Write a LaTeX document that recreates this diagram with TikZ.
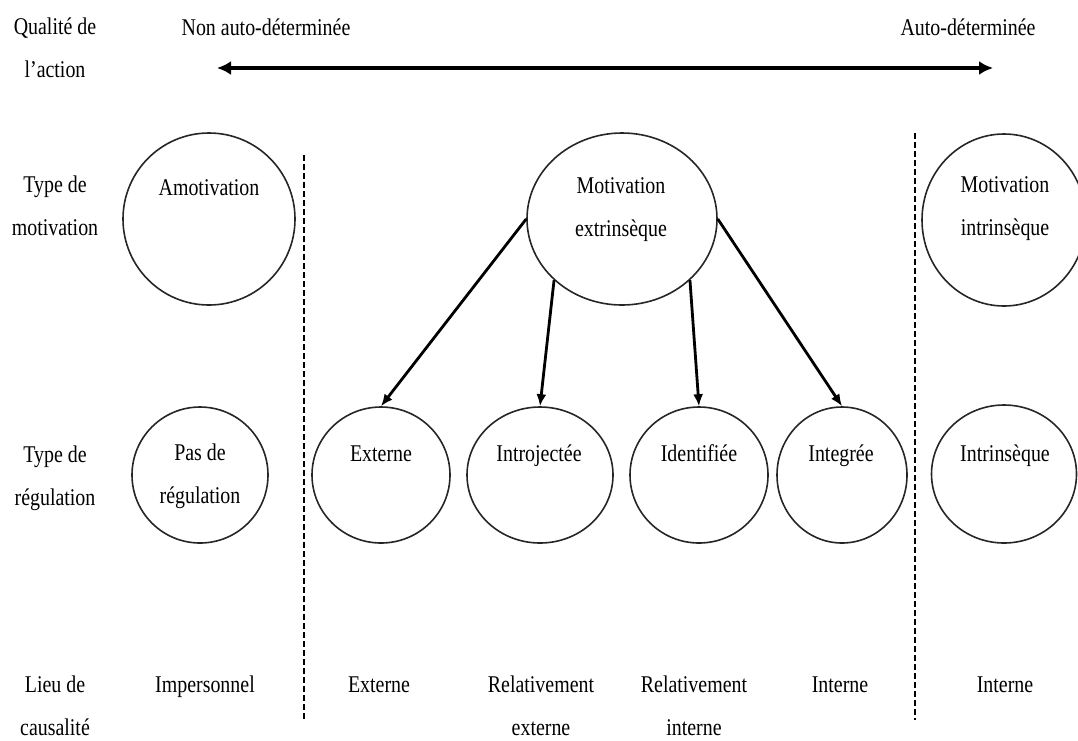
\documentclass[tikz,border=0pt]{standalone}
\usepackage{fontspec}
\setmainfont{Liberation Serif}[FakeStretch=0.83]
\usepackage{tikz}
\usetikzlibrary{shapes.geometric, arrows.meta, positioning}

\begin{document}
\begin{tikzpicture}[x=1pt, y=-1pt,
  txt/.style={align=center, font=\fontsize{24}{43}\selectfont, inner sep=0pt},
  lbl/.style={font=\fontsize{24}{43}\selectfont, inner sep=0pt, text height=18pt, text depth=1pt},
  oval/.style={draw=black!85, line width=1.6pt, ellipse, inner sep=0pt},
  sepline/.style={line width=2.4pt, dash pattern=on 6pt off 3pt},
  arr/.style={-{Latex[length=12pt, width=10pt]}, line width=2.8pt}
]
  \useasboundingbox (0,0) rectangle (1078,740);

  \node[txt] (qual) at (55,48) {Qualité de\\l’action};
  \node[txt] (typmot) at (55,206) {Type de\\motivation};
  \node[txt] (typreg) at (55,478) {Type de\\régulation};
  \node[txt] (lieu) at (55,706) {Lieu de\\causalité};

  \node[lbl] (nonauto) at (266,27) {Non auto-déterminée};
  \node[lbl] (auto) at (968,27) {Auto-déterminée};
  \coordinate (qleft) at (217,68);
  \coordinate (qright) at (993,68);
  \draw[{Latex[length=14pt, width=14pt]}-{Latex[length=14pt, width=14pt]}, line width=3.2pt] (qleft) -- (qright);

  \node[oval, minimum width=172pt, minimum height=172pt] (amot) at (209,219) {};
  \node[oval, minimum width=190pt, minimum height=172pt] (extr) at (622,219) {};
  \node[oval, minimum width=164pt, minimum height=172pt] (intr) at (1004,220) {};
  \node[lbl] (tamot) at (209,187) {Amotivation};
  \node[txt] (textr) at (621,210) {Motivation\\extrinsèque};
  \node[txt] (tintr) at (1005,209) {Motivation\\intrinsèque};

  \node[oval, minimum width=136pt, minimum height=136pt] (pasreg) at (200,475) {};
  \node[oval, minimum width=138pt, minimum height=136pt] (regext) at (381,475) {};
  \node[oval, minimum width=146pt, minimum height=136pt] (regintro) at (540,475) {};
  \node[oval, minimum width=138pt, minimum height=136pt] (regident) at (699,475) {};
  \node[oval, minimum width=130pt, minimum height=136pt] (reginteg) at (842,475) {};
  \node[oval, minimum width=145pt, minimum height=138pt] (regintr) at (1004,474) {};
  \node[txt] (tpasreg) at (200,476) {Pas de\\régulation};
  \node[lbl] (tregext) at (381,453) {Externe};
  \node[lbl] (tregintro) at (539,453) {Introjectée};
  \node[lbl] (tregident) at (699,453) {Identifiée};
  \node[lbl] (treginteg) at (841,453) {Integrée};
  \node[lbl] (tregintr) at (1005,453) {Intrinsèque};

  \node[lbl] (lcimp) at (205,684) {Impersonnel};
  \node[lbl] (lcext) at (379,684) {Externe};
  \node[txt] (lcrelext) at (541,706) {Relativement\\externe};
  \node[txt] (lcrelint) at (694,706) {Relativement\\interne};
  \node[lbl] (lcint) at (840,684) {Interne};
  \node[lbl] (lcintr) at (1005,684) {Interne};

  \coordinate (sepAtop) at (304,155);
  \coordinate (sepAbot) at (304,720);
  \coordinate (sepBtop) at (915,133);
  \coordinate (sepBbot) at (915,720);
  \draw[sepline] (sepAtop) -- (sepAbot);
  \draw[sepline] (sepBtop) -- (sepBbot);

  \draw[arr] (extr.west) -- (regext.north);
  \draw[arr] (extr.222) -- (regintro.north);
  \draw[arr] (extr.318) -- (regident.north);
  \draw[arr] (extr.east) -- (reginteg.north);
\end{tikzpicture}
\end{document}
